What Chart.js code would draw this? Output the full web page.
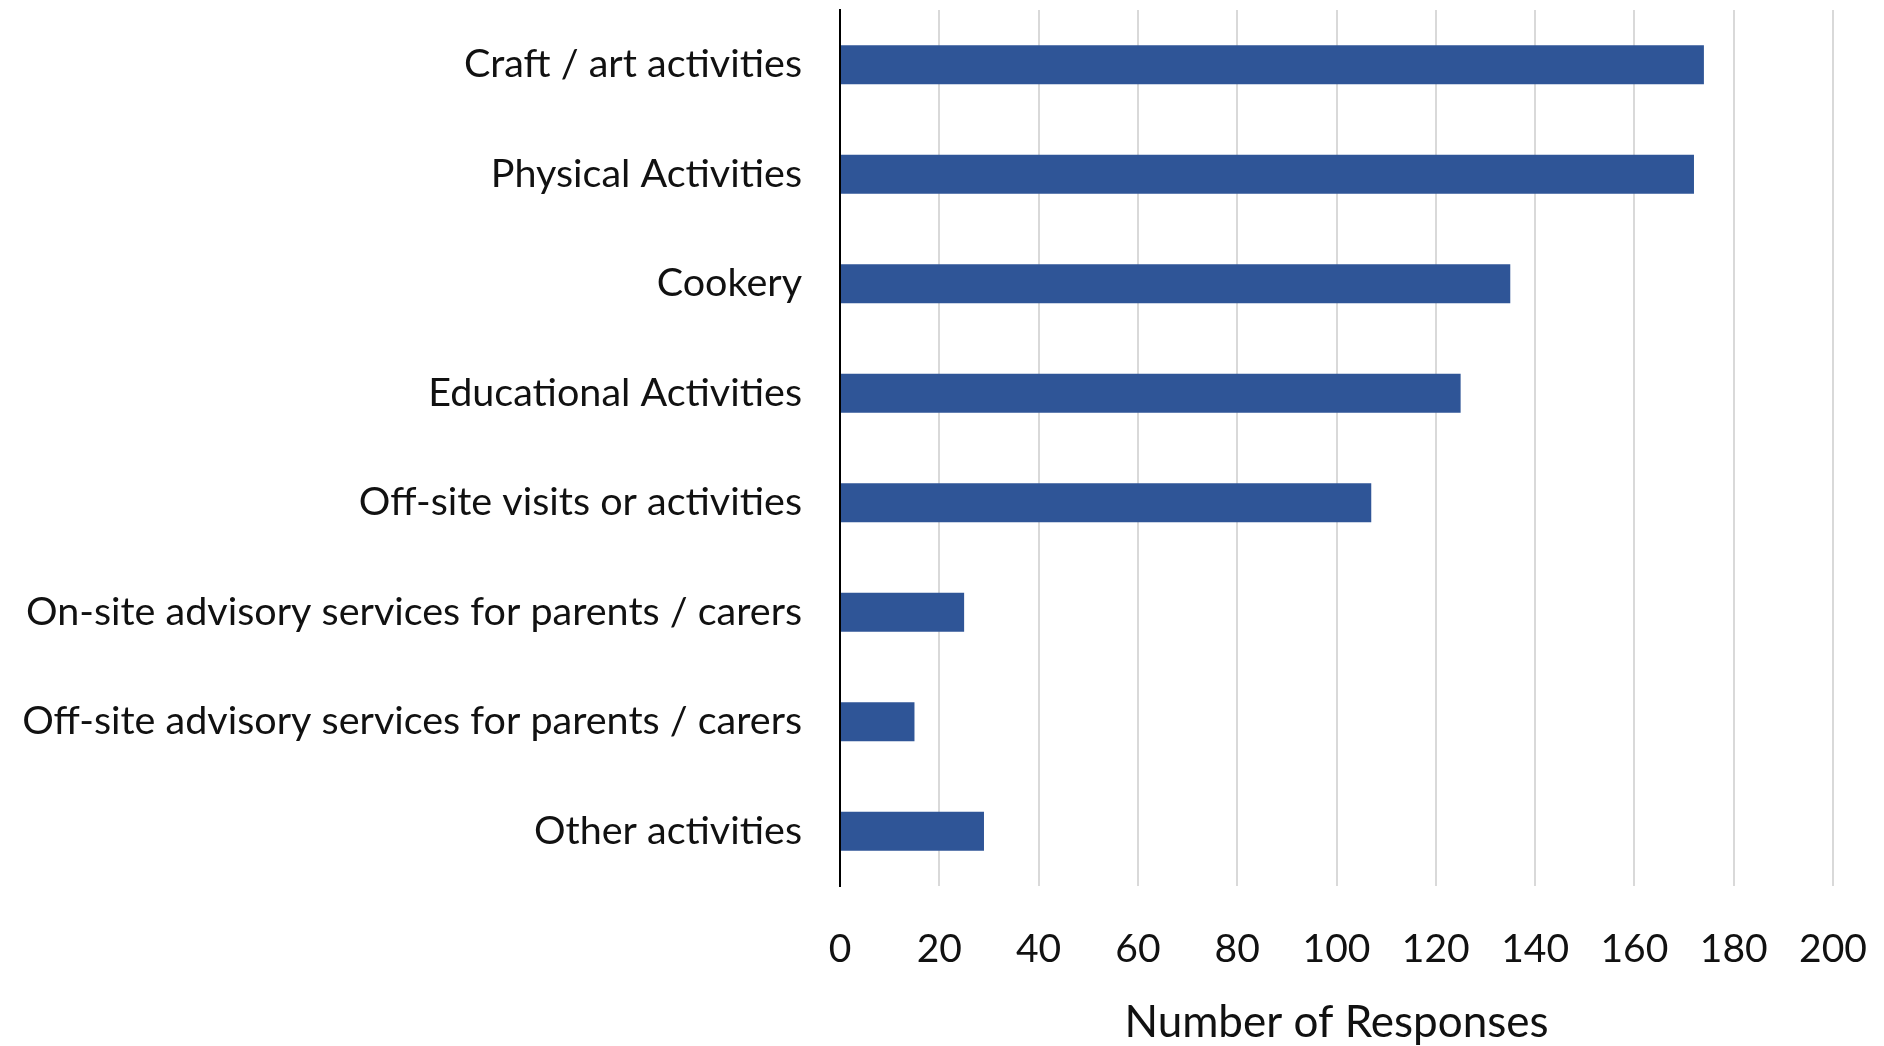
<!DOCTYPE html>
<html lang="en">
<head>
  <meta charset="UTF-8" />
  <title>Number of Responses</title>
  <script src="https://cdn.jsdelivr.net/npm/chart.js"></script>
  <style>
    html, body {
      margin: 0;
      padding: 0;
      background: #ffffff;
    }
    .chart-wrap {
      width: 1884px;
      height: 1046px;
    }
  </style>
</head>
<body>
  <div class="chart-wrap">
    <canvas id="responsesChart"></canvas>
  </div>

  <script>
    // Chart data
    const categories = [
      'Craft / art activities',
      'Physical Activities',
      'Cookery',
      'Educational Activities',
      'Off-site visits or activities',
      'On-site advisory services for parents / carers',
      'Off-site advisory services for parents / carers',
      'Other activities'
    ];
    const responses = [174, 172, 135, 125, 107, 25, 15, 29];
    const xTicks = [0, 20, 40, 60, 80, 100, 120, 140, 160, 180, 200];

    const fontFamily = "Lato, 'Liberation Sans', sans-serif";

    const ctx = document.getElementById('responsesChart').getContext('2d');
    new Chart(ctx, {
      type: 'bar',
      data: {
        labels: categories,
        datasets: [{
          label: 'Number of Responses',
          data: responses,
          backgroundColor: '#2F5597',
          borderWidth: 0,
          barPercentage: 0.355,
          categoryPercentage: 1.0
        }]
      },
      options: {
        indexAxis: 'y',
        responsive: true,
        maintainAspectRatio: false,
        animation: false,
        layout: {
          padding: { top: 10, right: 51, bottom: 0, left: 0 }
        },
        plugins: {
          legend: { display: false },
          tooltip: { enabled: false }
        },
        scales: {
          x: {
            min: 0,
            max: 200,
            afterBuildTicks: (scale) => {
              scale.ticks = xTicks.map(v => ({ value: v }));
            },
            // fixed axis height so the plot bottom lands where the reference has it
            afterFit: (scale) => {
              scale.height = 160;
            },
            grid: {
              color: '#d9d9d9',
              lineWidth: 2,
              drawTicks: true,
              tickLength: 40,
              tickColor: 'rgba(0,0,0,0)'
            },
            border: { display: false },
            ticks: {
              color: '#111',
              padding: 0,
              font: { family: fontFamily, size: 39 }
            },
            title: {
              display: true,
              text: 'Number of Responses',
              color: '#111',
              padding: { top: 0, bottom: 0 },
              font: { family: fontFamily, size: 44, lineHeight: 1.05 }
            }
          },
          y: {
            afterFit: (scale) => {
              scale.width = 840;
            },
            grid: {
              color: 'rgba(0,0,0,0)',
              drawTicks: true,
              tickLength: 38,
              tickColor: 'rgba(0,0,0,0)'
            },
            border: { display: true, color: '#000', width: 2, z: 1 },
            ticks: {
              color: '#111',
              padding: 0,
              font: { family: fontFamily, size: 39.5, lineHeight: 0.3 }
            }
          }
        }
      }
    });
  </script>
</body>
</html>
